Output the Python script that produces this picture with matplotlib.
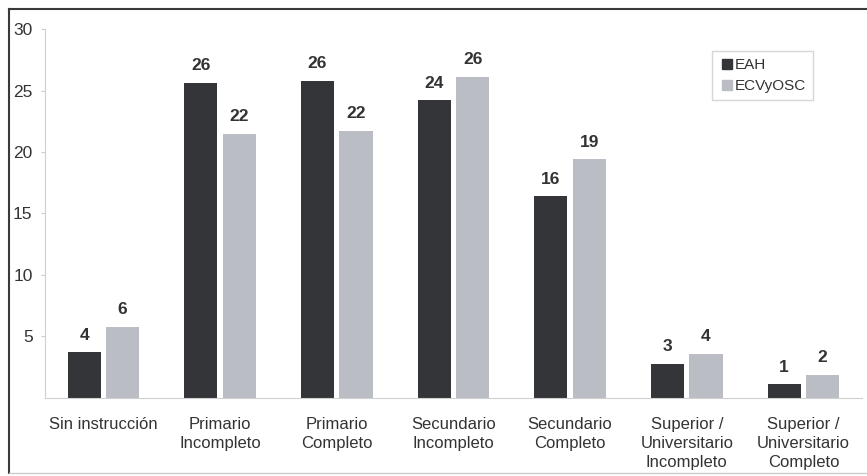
import matplotlib.pyplot as plt
import numpy as np
from matplotlib.lines import Line2D

plt.rcParams['font.family'] = ['Liberation Sans', 'DejaVu Sans']

categories = ['Sin instrucción', 'Primario\nIncompleto', 'Primario\nCompleto',
              'Secundario\nIncompleto', 'Secundario\nCompleto',
              'Superior /\nUniversitario\nIncompleto', 'Superior /\nUniversitario\nCompleto']
eah = [3.7, 25.6, 25.8, 24.2, 16.4, 2.8, 1.1]
ecv = [5.8, 21.5, 21.7, 26.1, 19.4, 3.6, 1.9]
eah_labels = ['4', '26', '26', '24', '16', '3', '1']
ecv_labels = ['6', '22', '22', '26', '19', '4', '2']

dark = '#343538'
light = '#babdc4'
txt = '#333333'

fig = plt.figure(figsize=(8.67, 4.76), dpi=100)
ax = fig.add_axes([0.052, 0.164, 0.942, 0.775])

x = np.arange(len(categories))
w = 0.285
ax.bar(x - 0.165, eah, w, color=dark, label='EAH')
ax.bar(x + 0.165, ecv, w, color=light, label='ECVyOSC')

for i in range(len(x)):
    ax.annotate(eah_labels[i], (x[i] - 0.165, eah[i]), xytext=(0, 7), textcoords='offset points',
                ha='center', va='bottom', fontsize=12.5, fontweight='bold', color=txt)
    ax.annotate(ecv_labels[i], (x[i] + 0.165, ecv[i]), xytext=(0, 7), textcoords='offset points',
                ha='center', va='bottom', fontsize=12.5, fontweight='bold', color=txt)

ax.set_xlim(-0.5, 6.5)
ax.set_ylim(0, 30)
ax.set_yticks([5, 10, 15, 20, 25, 30])
ax.set_xticks(x)
ax.set_xticklabels(categories, fontsize=12, color=txt, linespacing=1.3)
ax.tick_params(axis='y', labelsize=12.5, labelcolor=txt, length=3, color='#cccccc', pad=6)
ax.tick_params(axis='x', length=0, pad=14)
for s in ['top', 'right']:
    ax.spines[s].set_visible(False)
ax.spines['left'].set_color('#d0d0d0')
ax.spines['bottom'].set_color('#d0d0d0')

handles = [Line2D([], [], marker='s', ls='', color=dark, markersize=7),
           Line2D([], [], marker='s', ls='', color=light, markersize=7)]
ax.legend(handles, ['EAH', 'ECVyOSC'], loc='upper right', bbox_to_anchor=(0.95, 0.96),
          fontsize=11, frameon=True, fancybox=False, edgecolor='#cccccc',
          handletextpad=0.05, borderpad=0.45, labelspacing=0.45, handlelength=1.0,
          labelcolor=txt)

# figure frame
fig.add_artist(Line2D([0.01, 0.01], [0.006, 0.982], color='#3a3a3a', lw=1.5))
fig.add_artist(Line2D([0.01, 1.0], [0.982, 0.982], color='#3a3a3a', lw=1.5))
fig.add_artist(Line2D([0.01, 1.0], [0.006, 0.006], color='#cccccc', lw=1))

fig.savefig('out.png', dpi=100)
